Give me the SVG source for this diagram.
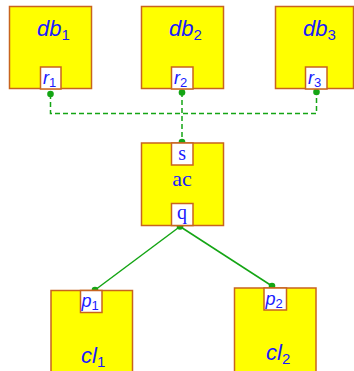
<svg xmlns="http://www.w3.org/2000/svg" width="354" height="371" viewBox="0 0 354 371">
<style>
.box{fill:#ffff00;stroke:#c8641e;stroke-width:1.5}
.port{fill:#ffffff;stroke:#c8641e;stroke-width:1.5}
.lbl{font-family:"Liberation Sans","DejaVu Sans",sans-serif;font-style:italic;fill:#1a1aff}
.big{font-size:22px}
.sm{font-size:18px}
.sub{font-size:13px;font-style:normal}
.sub2{font-size:15px;font-style:normal}
.rm{font-family:"Liberation Serif","DejaVu Serif",serif;fill:#1a1aff}
.dash{fill:none;stroke:#14a514;stroke-width:1.5;stroke-dasharray:5,3}
.solid{fill:none;stroke:#14a514;stroke-width:1.5}
.dot{fill:#14a514}
</style>
<rect width="354" height="371" fill="#ffffff"/>
<g id="connectors">
<polyline class="dash" points="50.5,94 50.5,113.5 316.5,113.5 316.5,92"/>
<line class="dash" x1="182" y1="92" x2="182" y2="142"/>
<line class="solid" x1="180" y1="226.5" x2="95" y2="290"/>
<line class="solid" x1="180" y1="226.5" x2="272" y2="286"/>
<circle class="dot" cx="50.5" cy="94" r="3.3"/>
<circle class="dot" cx="182" cy="92.5" r="3.3"/>
<circle class="dot" cx="316.5" cy="92" r="3.3"/>
<circle class="dot" cx="182" cy="142" r="3.3"/>
<circle class="dot" cx="180" cy="226.5" r="3.3"/>
<circle class="dot" cx="95" cy="290" r="3.3"/>
<circle class="dot" cx="272" cy="286" r="3.3"/>
</g>
<g id="db1">
<rect class="box" x="9.5" y="6.5" width="82" height="82"/>
<text class="lbl big" x="37" y="36">db<tspan class="sub2" dy="4">1</tspan></text>
<rect class="port" x="40.5" y="67" width="20.5" height="22"/>
<text class="lbl sm" x="43" y="84">r<tspan class="sub" dy="3">1</tspan></text>
</g>
<g id="db2">
<rect class="box" x="141.5" y="6.5" width="82" height="82"/>
<text class="lbl big" x="169" y="36">db<tspan class="sub2" dy="4">2</tspan></text>
<rect class="port" x="171.5" y="67" width="21.5" height="22"/>
<text class="lbl sm" x="174" y="84">r<tspan class="sub" dy="3">2</tspan></text>
</g>
<g id="db3">
<rect class="box" x="275.5" y="6.5" width="78" height="82"/>
<text class="lbl big" x="303" y="36">db<tspan class="sub2" dy="4">3</tspan></text>
<rect class="port" x="305.5" y="67" width="21.5" height="22"/>
<text class="lbl sm" x="308" y="84">r<tspan class="sub" dy="3">3</tspan></text>
</g>
<g id="ac">
<rect class="box" x="141.5" y="143" width="82" height="82.5"/>
<rect class="port" x="171.5" y="143" width="21.5" height="22"/>
<text class="rm" x="182.2" y="160" font-size="20" text-anchor="middle">s</text>
<text class="rm" x="182" y="186" font-size="22" text-anchor="middle">ac</text>
<rect class="port" x="171.5" y="203.5" width="21.5" height="22"/>
<text class="rm" x="182" y="219" font-size="20" text-anchor="middle">q</text>
</g>
<g id="cl1">
<rect class="box" x="51" y="290.5" width="81.5" height="90"/>
<rect class="port" x="80.5" y="290.5" width="21.5" height="22"/>
<text class="lbl sm" x="81.5" y="307">p<tspan class="sub" dy="3">1</tspan></text>
<text class="lbl big" x="81" y="363">cl<tspan class="sub2" dy="4">1</tspan></text>
</g>
<g id="cl2">
<rect class="box" x="234.5" y="288" width="81.5" height="90"/>
<rect class="port" x="264" y="288" width="22.5" height="22"/>
<text class="lbl sm" x="265.5" y="304.5">p<tspan class="sub" dy="3">2</tspan></text>
<text class="lbl big" x="266" y="360">cl<tspan class="sub2" dy="4">2</tspan></text>
</g>
</svg>
